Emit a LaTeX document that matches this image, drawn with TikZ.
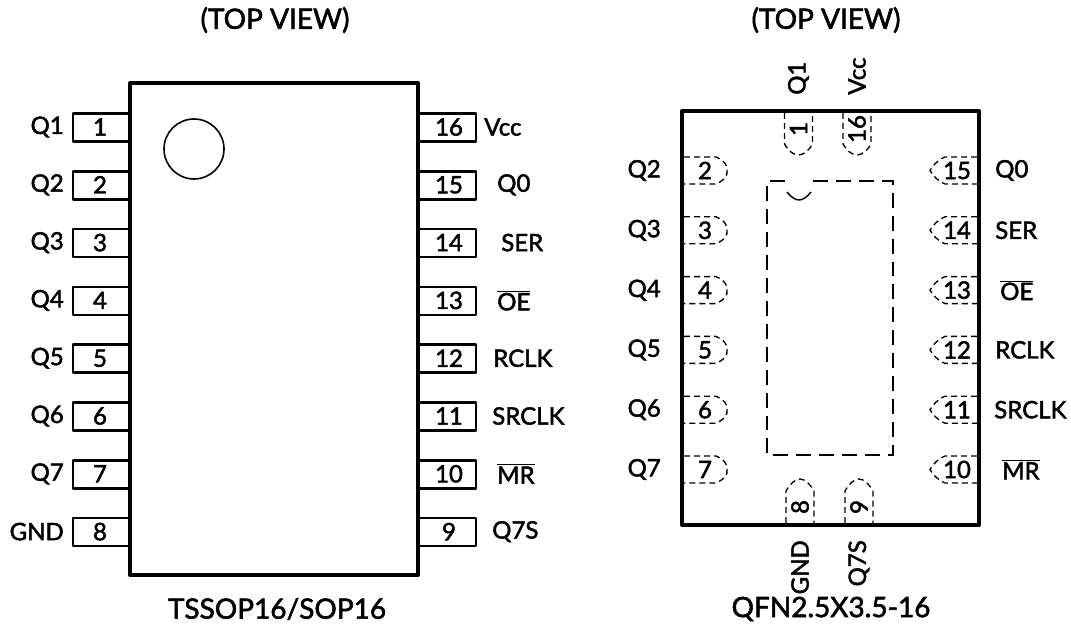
\documentclass[tikz,border=0pt]{standalone}
\usepackage{fontspec}
\setmainfont{Lato}[RawFeature={embolden=2}]
\newcommand{\ovl}[1]{$\overline{\mbox{#1}}$}
\tikzset{
  x=0.75pt,y=-0.75pt,
  body/.style={draw=black,line width=3pt,line join=round},
  leadbox/.style={draw=black,line width=2pt,line join=round},
  padline/.style={draw=black,line width=1pt,dash pattern=on 4.5pt off 3pt},
  inner/.style={draw=black,line width=1.1pt,dash pattern=on 11.2pt off 6pt},
  lbl/.style={font=\fontsize{18}{18}\selectfont,inner sep=0pt,text=black},
  num/.style={font=\fontsize{18}{18}\selectfont,inner sep=0pt,text=black},
  ttl/.style={font=\fontsize{21}{21}\selectfont,inner sep=0pt,text=black},
}
\begin{document}
\begin{tikzpicture}
\useasboundingbox (0,0) rectangle (1071,627);
% left package
\foreach \n/\l [count=\i from 0] in {1/Q1,2/Q2,3/Q3,4/Q4,5/Q5,6/Q6,7/Q7,8/GND}{
  \pgfmathsetmacro\yy{127.5+57.8*\i}
  \draw[leadbox] (130,\yy-14) -- (73,\yy-14) -- (73,\yy+14) -- (130,\yy+14);
  \node[num] (ln\n) at (100,\yy-0.5) {\n};
  \node[lbl,anchor=east] (ll\n) at (64,\yy-0.5) {\l};
}
\foreach \n/\l/\xa [count=\i from 0] in {16/Vcc/484,15/Q0/497,14/SER/501,13/\ovl{OE}/497,12/RCLK/493,11/SRCLK/492,10/\ovl{MR}/497,9/Q7S/492}{
  \pgfmathsetmacro\yy{127.5+57.8*\i}
  \draw[leadbox] (418,\yy-14) -- (476,\yy-14) -- (476,\yy+14) -- (418,\yy+14);
  \node[num] (ln\n) at (449,\yy-0.5) {\n};
  \node[lbl,anchor=west] (ll\n) at (\xa,\yy-0.5) {\l};
}
\draw[body] (130,83) rectangle (418,575);
\draw[line width=1.2pt] (194,149) circle (30);
\node[ttl] (t1) at (275,20) {(TOP VIEW)};
\node[ttl] (c1) at (277,609) {TSSOP16/SOP16};
% right package
\foreach \n/\l [count=\i from 0] in {2/Q2,3/Q3,4/Q4,5/Q5,6/Q6,7/Q7}{
  \pgfmathsetmacro\yy{170.5+59.8*\i}
  \draw[padline] (684,\yy-13.5) -- (716,\yy-13.5) .. controls (724,\yy-10) and (728,\yy-5) .. (727,\yy) .. controls (728,\yy+5) and (724,\yy+10) .. (716,\yy+13.5) -- (684,\yy+13.5);
  \node[num] (rn\n) at (705,\yy) {\n};
  \node[lbl,anchor=east] (rl\n) at (661,\yy) {\l};
}
\foreach \n/\l/\xa [count=\i from 0] in {15/Q0/995,14/SER/995,13/\ovl{OE}/1000,12/RCLK/995,11/SRCLK/994,10/\ovl{MR}/1002}{
  \pgfmathsetmacro\yy{170.5+59.8*\i}
  \draw[padline] (977,\yy-13.5) -- (945,\yy-13.5) .. controls (937,\yy-10) and (933,\yy-5) .. (930,\yy) .. controls (933,\yy+5) and (937,\yy+10) .. (945,\yy+13.5) -- (977,\yy+13.5);
  \node[num] (rn\n) at (957,\yy) {\n};
  \node[lbl,anchor=west] (rl\n) at (\xa,\yy) {\l};
}
\foreach \n/\l/\xx in {1/Q1/798.5,16/Vcc/857}{
  \draw[padline] (\xx-14,113) -- (\xx-14,144) .. controls (\xx-10,151) and (\xx-5,155) .. (\xx,155) .. controls (\xx+5,155) and (\xx+10,151) .. (\xx+14,144) -- (\xx+14,113);
  \node[num,rotate=90] (rn\n) at (\xx,129) {\n};
  \node[lbl,rotate=90,anchor=west] (rl\n) at (\xx,95) {\l};
}
\foreach \n/\l/\xx in {8/GND/800,9/Q7S/859}{
  \draw[padline] (\xx-14,523) -- (\xx-14,491) .. controls (\xx-10,484) and (\xx-5,479) .. (\xx,479) .. controls (\xx+5,479) and (\xx+10,484) .. (\xx+14,491) -- (\xx+14,523);
  \node[num,rotate=90] (rn\n) at (\xx,507) {\n};
  \node[lbl,rotate=90,anchor=east] (rl\n) at (\xx,540) {\l};
}
\draw[inner] (813,181) -- (893,181) -- (893,455) -- (767,455) -- (767,181) -- (786,181);
\draw[line width=1.1pt] (787,192) .. controls (791,197) and (795,200) .. (799,200) .. controls (803,200) and (807,197) .. (811,192);
\draw[body] (682,111) rectangle (979,525);
\node[ttl] (t2) at (826,20) {(TOP VIEW)};
\node[ttl] (c2) at (831,609) {QFN2.5X3.5-16};
\end{tikzpicture}
\end{document}
